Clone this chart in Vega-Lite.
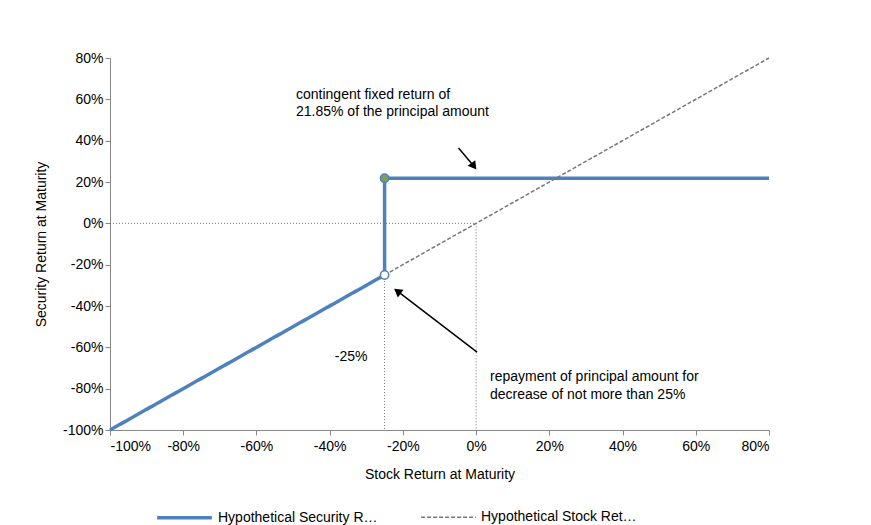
{
  "$schema": "https://vega.github.io/schema/vega-lite/v6.json",
  "width": 659,
  "height": 372,
  "autosize": "none",
  "padding": {"left": 110, "top": 58, "right": 102, "bottom": 95},
  "background": "white",
  "config": {
    "font": "Liberation Sans",
    "view": {"stroke": null},
    "axis": {"grid": false, "domainColor": "#888", "tickColor": "#888", "labelColor": "black", "titleColor": "black", "labelFontSize": 14, "titleFontSize": 14, "titleFontWeight": "normal", "labelFont": "Liberation Sans", "titleFont": "Liberation Sans"}
  },
  "datasets": {
    "lines": [
      {"series": "Hypothetical Security Return", "x": -100, "y": -100, "o": 1},
      {"series": "Hypothetical Security Return", "x": -25, "y": -25, "o": 2},
      {"series": "Hypothetical Security Return", "x": -25, "y": 21.85, "o": 3},
      {"series": "Hypothetical Security Return", "x": 80, "y": 21.85, "o": 4},
      {"series": "Hypothetical Stock Return", "x": -25, "y": -25, "o": 1},
      {"series": "Hypothetical Stock Return", "x": 80, "y": 80, "o": 2}
    ],
    "refs": [
      {"g": "h", "x": -100, "y": 0, "o": 1},
      {"g": "h", "x": 0, "y": 0, "o": 2},
      {"g": "v0", "x": 0, "y": 0, "o": 1},
      {"g": "v0", "x": 0, "y": -100, "o": 2},
      {"g": "v25", "x": -25, "y": -25, "o": 1},
      {"g": "v25", "x": -25, "y": -100, "o": 2}
    ],
    "points": [
      {"x": -25, "y": 21.85, "fill": "#7F9F5F"},
      {"x": -25, "y": -25, "fill": "white"}
    ],
    "arrows": [
      {"a": "a1", "x": -4.8, "y": 36.5, "o": 1},
      {"a": "a1", "x": -0.6, "y": 27.6, "o": 2},
      {"a": "a2", "x": 0.25, "y": -62.3, "o": 1},
      {"a": "a2", "x": -21.5, "y": -32.8, "o": 2}
    ],
    "heads": [
      {"x": -0.6, "y": 27.6, "ang": 143},
      {"x": -21.5, "y": -32.8, "ang": 307}
    ],
    "notes": [
      {"x": -49.2, "y": 62.1, "t": "contingent fixed return of"},
      {"x": -49.2, "y": 53.9, "t": "21.85% of the principal amount"},
      {"x": -38.6, "y": -64.7, "t": "-25%"},
      {"x": 3.8, "y": -74.4, "t": "repayment of principal amount for"},
      {"x": 3.8, "y": -83.1, "t": "decrease of not more than 25%"}
    ]
  },
  "layer": [
    {
      "data": {"name": "refs"},
      "mark": {"type": "line", "color": "#777", "strokeDash": [1, 2], "strokeWidth": 1},
      "encoding": {
        "x": {"field": "x", "type": "quantitative", "scale": {"domain": [-100, 80]},
          "axis": {"values": [-100, -80, -60, -40, -20, 0, 20, 40, 60, 80], "labelExpr": "datum.value + '%'", "title": "Stock Return at Maturity", "labelPadding": 4, "titlePadding": 14, "labelFontSize": 14, "titleFontSize": 14}},
        "y": {"field": "y", "type": "quantitative", "scale": {"domain": [-100, 80]},
          "axis": {"values": [-100, -80, -60, -40, -20, 0, 20, 40, 60, 80], "labelExpr": "datum.value + '%'", "title": "Security Return at Maturity", "titlePadding": 14, "labelFontSize": 14, "titleFontSize": 14}},
        "detail": {"field": "g"},
        "order": {"field": "o"}
      }
    },
    {
      "data": {"name": "lines"},
      "mark": {"type": "line"},
      "encoding": {
        "x": {"field": "x", "type": "quantitative"},
        "y": {"field": "y", "type": "quantitative"},
        "order": {"field": "o"},
        "color": {"field": "series", "type": "nominal",
          "scale": {"domain": ["Hypothetical Security Return", "Hypothetical Stock Return"], "range": ["#4F81BD", "#777777"]},
          "legend": {"title": null, "orient": "none", "legendX": 45, "legendY": 430, "direction": "horizontal", "symbolType": "stroke", "symbolSize": 3000, "labelFontSize": 14, "labelColor": "black", "labelFont": "Liberation Sans", "columnPadding": 40}},
        "strokeDash": {"field": "series", "type": "nominal",
          "scale": {"domain": ["Hypothetical Security Return", "Hypothetical Stock Return"], "range": [[1, 0], [4, 2]]}},
        "strokeWidth": {"field": "series", "type": "nominal",
          "scale": {"domain": ["Hypothetical Security Return", "Hypothetical Stock Return"], "range": [3.5, 1.5]}, "legend": null}
      }
    },
    {
      "data": {"name": "arrows"},
      "mark": {"type": "line", "color": "black", "strokeWidth": 1.5},
      "encoding": {
        "x": {"field": "x", "type": "quantitative"},
        "y": {"field": "y", "type": "quantitative"},
        "detail": {"field": "a"},
        "order": {"field": "o"}
      }
    },
    {
      "data": {"name": "heads"},
      "mark": {"type": "point", "shape": "triangle-up", "filled": true, "color": "black", "size": 90, "opacity": 1},
      "encoding": {
        "x": {"field": "x", "type": "quantitative"},
        "y": {"field": "y", "type": "quantitative"},
        "angle": {"field": "ang", "type": "quantitative", "scale": null}
      }
    },
    {
      "data": {"name": "points"},
      "mark": {"type": "point", "filled": true, "size": 70, "stroke": "#4F81BD", "strokeWidth": 1.5, "opacity": 1},
      "encoding": {
        "x": {"field": "x", "type": "quantitative"},
        "y": {"field": "y", "type": "quantitative"},
        "fill": {"field": "fill", "type": "nominal", "scale": null}
      }
    },
    {
      "data": {"name": "notes"},
      "mark": {"type": "text", "align": "left", "baseline": "middle", "fontSize": 14, "color": "black"},
      "encoding": {
        "x": {"field": "x", "type": "quantitative"},
        "y": {"field": "y", "type": "quantitative"},
        "text": {"field": "t"}
      }
    }
  ]
}
